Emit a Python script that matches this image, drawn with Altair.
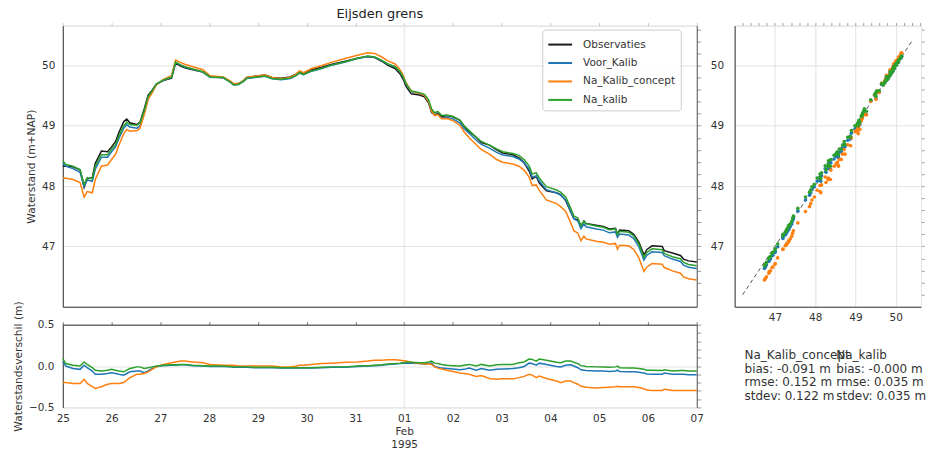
import altair as alt
import pandas as pd

# Hours after 1995-01-25 00:00 (local time)
hours = [0, 1.5, 5, 8.5, 10.5, 12, 14.5, 16, 19, 22,
         24, 26, 27.5, 30, 31.5, 33, 36.5, 38, 40, 42,
         44, 46, 49.5, 53.5, 55.5, 58, 60, 64, 69, 72.5,
         79, 82.5, 84, 86.5, 89, 90.5, 94.5, 99.5, 103, 107.5,
         112, 115, 116.5, 118.5, 122.5, 127.5, 132.5, 139, 145, 150,
         153.5, 157, 160, 163.5, 166, 167.5, 169, 171.5, 175.5, 178,
         180, 181.5, 183, 184.5, 186.5, 189, 192, 195.5, 197.5, 200,
         203.5, 206, 210, 213.5, 216.5, 221.5, 224.5, 227, 229.5, 231,
         233, 234.5, 238, 243, 245, 247.5, 250, 251.5, 253.5, 255,
         256.5, 257.5, 262.5, 266, 269, 272, 273, 274, 278.5, 281,
         283.5, 286, 287.5, 290, 295, 296, 300, 304, 305.5, 308,
         312]

# Observed water level (m+NAP)
observaties = [48.33, 48.33, 48.32, 48.27, 47.98, 48.12, 48.14, 48.38, 48.58, 48.57,
               48.65, 48.74, 48.88, 49.07, 49.11, 49.05, 49.02, 49.06, 49.27, 49.51,
               49.59, 49.69, 49.75, 49.79, 50.04, 49.99, 49.96, 49.93, 49.89, 49.81,
               49.80, 49.73, 49.69, 49.70, 49.75, 49.80, 49.82, 49.84, 49.80, 49.79,
               49.81, 49.86, 49.90, 49.87, 49.93, 49.97, 50.02, 50.07, 50.12, 50.15,
               50.13, 50.07, 50.00, 49.95, 49.86, 49.77, 49.65, 49.53, 49.51, 49.48,
               49.38, 49.22, 49.18, 49.21, 49.15, 49.17, 49.15, 49.09, 48.99, 48.90,
               48.81, 48.72, 48.68, 48.60, 48.55, 48.52, 48.47, 48.39, 48.25, 48.12,
               48.16, 48.05, 47.92, 47.89, 47.86, 47.76, 47.57, 47.46, 47.44, 47.34,
               47.42, 47.38, 47.35, 47.33, 47.29, 47.30, 47.20, 47.27, 47.26, 47.20,
               47.07, 46.86, 46.95, 47.01, 47.00, 46.93, 46.89, 46.85, 46.79, 46.76,
               46.74]

# Model minus observation (m)
verschil_voor_kalib = [0.05, 0.00, -0.03, -0.04, 0.01, -0.02, -0.06, -0.10, -0.10, -0.09,
                       -0.08, -0.09, -0.10, -0.11, -0.09, -0.07, -0.06, -0.06, -0.08, -0.06,
                       -0.03, -0.01, 0.005, 0.01, 0.01, 0.015, 0.015, 0.005, 0.0, -0.005,
                       -0.005, -0.01, -0.015, -0.015, -0.015, -0.015, -0.02, -0.02, -0.02, -0.025,
                       -0.025, -0.025, -0.025, -0.025, -0.025, -0.02, -0.015, -0.015, -0.005, 0.0,
                       0.005, 0.01, 0.02, 0.025, 0.03, 0.035, 0.035, 0.035, 0.03, 0.025,
                       0.03, 0.035, -0.005, -0.015, -0.025, -0.03, -0.035, -0.045, -0.04, -0.025,
                       -0.05, -0.03, -0.05, -0.04, -0.035, -0.03, -0.02, -0.005, 0.035, 0.03,
                       0.01, 0.035, 0.02, -0.005, -0.01, 0.01, 0.015, 0.00, -0.02, -0.045,
                       -0.05, -0.055, -0.06, -0.06, -0.065, -0.06, -0.05, -0.065, -0.07, -0.07,
                       -0.075, -0.085, -0.095, -0.10, -0.10, -0.085, -0.10, -0.10, -0.10, -0.105,
                       -0.105]

verschil_na_kalib_concept = [-0.20, -0.20, -0.21, -0.21, -0.16, -0.21, -0.25, -0.27, -0.25, -0.22,
                             -0.21, -0.21, -0.21, -0.20, -0.17, -0.14, -0.10, -0.10, -0.09, -0.07,
                             -0.04, -0.01, 0.02, 0.04, 0.05, 0.06, 0.06, 0.05, 0.04, 0.02,
                             0.01, 0.01, 0.01, 0.00, 0.00, 0.00, 0.00, 0.00, 0.00, -0.01,
                             -0.01, 0.00, 0.01, 0.01, 0.02, 0.03, 0.035, 0.045, 0.05, 0.06,
                             0.07, 0.07, 0.075, 0.075, 0.07, 0.065, 0.06, 0.045, 0.03, 0.025,
                             0.025, 0.02, -0.01, -0.025, -0.035, -0.05, -0.065, -0.085, -0.09, -0.10,
                             -0.125, -0.115, -0.15, -0.16, -0.155, -0.155, -0.14, -0.125, -0.10, -0.11,
                             -0.14, -0.12, -0.15, -0.18, -0.20, -0.18, -0.18, -0.20, -0.22, -0.245,
                             -0.25, -0.255, -0.265, -0.26, -0.255, -0.25, -0.245, -0.25, -0.25, -0.25,
                             -0.26, -0.275, -0.29, -0.295, -0.295, -0.28, -0.295, -0.295, -0.295, -0.295,
                             -0.295]

verschil_na_kalib = [0.09, 0.03, 0.01, 0.00, 0.05, 0.02, -0.02, -0.05, -0.06, -0.05,
                     -0.04, -0.05, -0.06, -0.07, -0.05, -0.03, -0.01, -0.01, -0.03, -0.02,
                     -0.01, 0.00, 0.01, 0.015, 0.015, 0.02, 0.02, 0.01, 0.005, 0.0,
                     0.0, -0.005, -0.01, -0.01, -0.01, -0.01, -0.015, -0.015, -0.015, -0.02,
                     -0.02, -0.02, -0.02, -0.02, -0.02, -0.015, -0.01, -0.01, 0.0, 0.005,
                     0.01, 0.015, 0.025, 0.03, 0.035, 0.04, 0.045, 0.045, 0.04, 0.04,
                     0.05, 0.06, 0.035, 0.03, 0.02, 0.01, 0.005, 0.0, 0.01, 0.02,
                     0.0, 0.02, 0.0, 0.015, 0.02, 0.02, 0.04, 0.05, 0.085, 0.08,
                     0.06, 0.085, 0.07, 0.045, 0.04, 0.06, 0.06, 0.045, 0.03, 0.005,
                     0.0, -0.005, -0.01, -0.012, -0.015, -0.01, 0.0, -0.02, -0.025, -0.025,
                     -0.03, -0.04, -0.05, -0.05, -0.055, -0.045, -0.06, -0.055, -0.055, -0.06,
                     -0.06]

series_names = ["Observaties", "Voor_Kalib", "Na_Kalib_concept", "Na_kalib"]
series_colors = ["#1a1a1a", "#1f77b4", "#ff7f0e", "#2ca02c"]

stats_concept = ["Na_Kalib_concept", "bias: -0.091 m", "rmse: 0.152 m", "stdev: 0.122 m"]
stats_kalib = ["Na_kalib", "bias: -0.000 m", "rmse: 0.035 m", "stdev: 0.035 m"]

level_ticks = [47, 48, 49, 50]
diff_ticks = [-0.5, 0.0, 0.5]
diagonal = [46.2, 50.42]

FONT = "DejaVu Sans"
DARK = "#333333"
GRID = "#e2e2e2"

# ---- long tables ----
start = pd.Timestamp("1995-01-25")
times = [(start + pd.Timedelta(hours=h)).strftime("%Y-%m-%dT%H:%M:%S") for h in hours]
model_diffs = {
    "Voor_Kalib": verschil_voor_kalib,
    "Na_Kalib_concept": verschil_na_kalib_concept,
    "Na_kalib": verschil_na_kalib,
}

rows = []
for name in series_names:
    for i, t in enumerate(times):
        d = model_diffs[name][i] if name in model_diffs else 0.0
        rows.append({"time": t, "series": name, "obs": observaties[i],
                     "diff": d, "level": round(observaties[i] + d, 4)})
df = pd.DataFrame(rows)
model_df = df[df["series"] != "Observaties"].reset_index(drop=True)

day_ticks = ([alt.DateTime(year=1995, month=1, date=d) for d in range(25, 32)]
             + [alt.DateTime(year=1995, month=2, date=d) for d in range(1, 8)])
level_minor = [round(46.2 + 0.2 * i, 1) for i in range(23)]
diff_minor = [round(-0.5 + 0.1 * i, 1) for i in range(11)]

x_scale = alt.Scale(domain=[alt.DateTime(year=1995, month=1, date=25),
                            alt.DateTime(year=1995, month=2, date=7)], nice=False)
level_scale = alt.Scale(domain=[46.0, 50.66], nice=False, zero=False)
obs_scale = alt.Scale(domain=[46.0, 50.63], nice=False, zero=False)
diff_scale = alt.Scale(domain=[-0.5, 0.5], nice=False)
color_all = alt.Scale(domain=series_names, range=series_colors)
color_models = alt.Scale(domain=series_names[1:], range=series_colors[1:])

feb_grid = alt.condition("date(datum.value) == 1 && month(datum.value) == 1",
                         alt.value(1), alt.value(0))

# ---- top panel: water levels ----
main_x_axis = alt.Axis(values=day_ticks, labels=False, ticks=False, domainColor=DARK,
                       grid=True, gridColor=GRID, gridOpacity=feb_grid, title=None)
main_y_axis = alt.Axis(values=level_ticks, ticks=False, labelPadding=8, labelFlush=False,
                       grid=True, gridColor=GRID, domainColor=DARK,
                       title="Waterstand (m+NAP)", titlePadding=5)
legend_main = alt.Legend(orient="none", legendX=481, legendY=4, title=None,
                         symbolType="M-1.33,0L1.33,0", symbolSize=324, symbolStrokeWidth=2,
                         symbolOffset=3,
                         labelFontSize=10.5, labelColor=DARK, labelFont=FONT,
                         padding=5, rowPadding=2.5, labelOffset=13,
                         strokeColor="#cccccc", fillColor="rgba(255,255,255,0.85)",
                         cornerRadius=3)

main_lines = alt.layer(*[
    alt.Chart(df).transform_filter(alt.datum.series == s).mark_line(strokeWidth=1.5).encode(
        x=alt.X("time:T", scale=x_scale, axis=main_x_axis),
        y=alt.Y("level:Q", scale=level_scale, axis=main_y_axis),
        color=alt.Color("series:N", scale=color_all, legend=legend_main),
    )
    for s in series_names
])
main_frame = alt.Chart(df).mark_point(opacity=0, size=1).encode(
    x=alt.X("time:T", scale=x_scale,
            axis=alt.Axis(orient="top", values=day_ticks, labels=False, tickSize=3,
                          tickColor="#c4c4c4", domainColor=GRID, grid=False, title=None)),
    y=alt.Y("level:Q", scale=level_scale,
            axis=alt.Axis(orient="right", values=level_minor, labels=False, tickSize=4,
                          tickColor="#9a9a9a", domainColor="#555555", grid=False, title=None)),
)
main = alt.layer(main_lines, main_frame).resolve_axis(
    x="independent", y="independent"
).properties(
    width=636, height=282,
    title=alt.TitleParams("Eijsden grens", fontSize=13, fontWeight="normal",
                          color="#222222", font=FONT, anchor="middle", offset=1),
)

# ---- bottom panel: differences ----
day_label = ("date(datum.value) == 1 && month(datum.value) == 1 ? "
             "[timeFormat(datum.value, '%d'), timeFormat(datum.value, '%b'), "
             "timeFormat(datum.value, '%Y')] : timeFormat(datum.value, '%d')")
diff_x_axis = alt.Axis(values=day_ticks, labelExpr=day_label, ticks=False, labelPadding=6,
                       labelLineHeight=13, labelFlush=False, domain=False,
                       grid=True, gridColor=GRID, gridOpacity=feb_grid, title=None)
diff_y_axis = alt.Axis(values=diff_ticks, format=".1f", ticks=False, labelPadding=9,
                       labelFlush=False, grid=True, gridColor=GRID, domainColor=DARK,
                       title="Waterstandsverschil (m)", titlePadding=5)

diff_lines = alt.layer(*[
    alt.Chart(model_df).transform_filter(alt.datum.series == s).mark_line(strokeWidth=1.5).encode(
        x=alt.X("time:T", scale=x_scale, axis=diff_x_axis),
        y=alt.Y("diff:Q", scale=diff_scale, axis=diff_y_axis),
        color=alt.Color("series:N", scale=color_models, legend=None),
    )
    for s in series_names[1:]
])
diff_frame = alt.Chart(model_df).mark_point(opacity=0, size=1).encode(
    x=alt.X("time:T", scale=x_scale,
            axis=alt.Axis(orient="top", values=day_ticks, labels=False, tickSize=3,
                          tickColor="#777777", domainColor=DARK, grid=False, title=None)),
    y=alt.Y("diff:Q", scale=diff_scale,
            axis=alt.Axis(orient="right", values=diff_minor, labels=False, tickSize=4,
                          tickColor="#9a9a9a", domainColor="#555555", grid=False, title=None)),
)
diff = alt.layer(diff_lines, diff_frame).resolve_axis(
    x="independent", y="independent"
).properties(width=636, height=83)

# ---- scatter: model against observation ----
sc_x_axis = alt.Axis(values=level_ticks, ticks=False, labelPadding=6, labelFlush=False,
                     grid=True, gridColor=GRID, domainColor=DARK, title=None)
sc_y_axis = alt.Axis(values=level_ticks, ticks=False, labelPadding=11, labelFlush=False,
                     grid=True, gridColor=GRID, domainColor=DARK, title=None)

diag_df = pd.DataFrame({"obs": diagonal, "level": diagonal})
diag_line = alt.Chart(diag_df).mark_line(color="#555555", strokeWidth=1, strokeDash=[4, 3]).encode(
    x=alt.X("obs:Q", scale=obs_scale, axis=sc_x_axis),
    y=alt.Y("level:Q", scale=level_scale, axis=sc_y_axis),
)
points = alt.Chart(model_df).mark_circle(size=13, opacity=1).encode(
    x=alt.X("obs:Q", scale=obs_scale, axis=sc_x_axis),
    y=alt.Y("level:Q", scale=level_scale, axis=sc_y_axis),
    color=alt.Color("series:N", scale=color_models, legend=None),
)
scatter_frame = alt.Chart(model_df).mark_point(opacity=0, size=1).encode(
    x=alt.X("obs:Q", scale=obs_scale,
            axis=alt.Axis(orient="top", values=level_minor, labels=False, tickSize=3,
                          tickColor="#9a9a9a", domainColor=GRID, grid=False, title=None)),
    y=alt.Y("level:Q", scale=level_scale,
            axis=alt.Axis(orient="right", values=level_minor, labels=False, tickSize=3,
                          tickColor="#9a9a9a", domainColor=GRID, grid=False, title=None)),
)
scatter = alt.layer(alt.layer(diag_line, points), scatter_frame).resolve_axis(
    x="independent", y="independent"
).properties(width=187, height=282)

# ---- statistics block under the scatter ----
one_row = pd.DataFrame({"k": [0]})
stats_left = alt.Chart(one_row).mark_text(
    align="left", baseline="top", font=FONT, fontSize=12, lineHeight=14, color=DARK
).encode(x=alt.value(10), y=alt.value(25), text=alt.value(stats_concept))
stats_right = alt.Chart(one_row).mark_text(
    align="left", baseline="top", font=FONT, fontSize=12, lineHeight=14, color=DARK
).encode(x=alt.value(102), y=alt.value(25), text=alt.value(stats_kalib))
stats = alt.layer(stats_left, stats_right).properties(
    width=187, height=83, view=alt.ViewBackground(strokeOpacity=0)
)

chart = alt.concat(
    main, scatter, diff, stats, columns=2, bounds="flush",
    spacing={"row": 18, "column": 38},
).resolve_scale(color="independent").properties(
    padding={"left": 12, "top": 7, "right": 4, "bottom": 0},
    background="white",
).configure(font=FONT).configure_view(
    stroke=GRID, strokeWidth=1
).configure_axis(
    labelFont=FONT, labelFontSize=10.5, labelColor=DARK,
    titleFont=FONT, titleFontSize=10.7, titleFontWeight="normal", titleColor=DARK,
    domainWidth=1, gridWidth=1,
)

chart.save("out.html", embed_options={"renderer": "svg", "actions": False})
